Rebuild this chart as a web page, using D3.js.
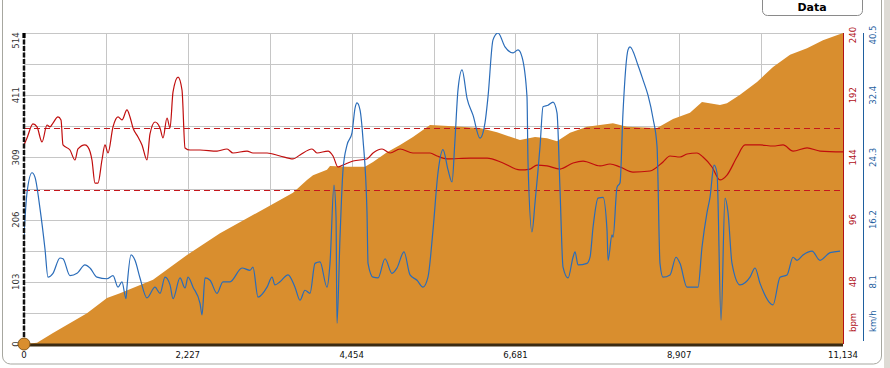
<!DOCTYPE html>
<html>
<head>
<meta charset="utf-8">
<script src="https://cdn.jsdelivr.net/npm/d3@7"></script>
<style>
  body { margin: 0; background: #fff; }
  svg { display: block; font-family: "DejaVu Sans Condensed", "DejaVu Sans", Verdana, sans-serif; }
</style>
</head>
<body>
<script>
// elevation profile (m) vs distance (m)
var elevDist = [0,177,394,856,1128,1305,1754,2216,2665,3304,3657,3847,3929,4119,4160,4391,4636,4745,4935,5112,5288,5520,5832,6199,6430,6743,6947,7110,7246,7423,7654,8007,8198,8606,8823,9054,9217,9462,9557,9734,9965,10183,10414,10645,10862,11134];
var elevM = [0,2,18,51,76,84,106,147,183,226,250,271,279,288,294,293,293,301,317,329,342,362,360,357,350,337,342,340,335,349,359,365,359,357,372,382,400,395,398,412,433,458,478,489,502,514];

// heart rate (bpm)
var hrDist = [0,41,122,177,245,313,353,394,462,503,530,625,693,734,829,870,924,965,1006,1060,1101,1142,1210,1278,1332,1400,1441,1482,1550,1604,1672,1713,1781,1849,1890,1944,1985,2026,2094,2148,2189,2257,2393,2624,2760,2841,3032,3113,3304,3480,3657,3752,3915,3983,4133,4201,4269,4337,4473,4663,4745,4867,4976,5112,5288,5520,5615,5751,6063,6295,6512,6743,6879,6974,7110,7287,7464,7600,7831,7967,8103,8279,8510,8687,8782,8918,9013,9149,9231,9353,9462,9557,9693,9802,10006,10183,10319,10455,10645,10822,11134];
var hrBpm = [153.6,159,169.8,167.5,155.9,169,167.5,170.5,175.2,172.9,153.6,149.7,142,150.5,153.6,152,142,124.2,124.2,142,153.6,147.4,167.5,175.2,172.9,180.6,175.2,166.7,159.7,153.6,142,162.1,171.3,166.7,159,174.4,166.7,194.5,206,196,151.3,149.7,149.7,148.9,150.5,147.4,148.9,147.4,147.4,145.1,142.8,145.9,150.5,147.4,148.9,145.1,136.6,138.1,141.2,142.8,147.4,150.5,147.4,150.5,147.4,147.4,145.1,142.8,143.5,143.5,139.7,134.3,135,138.1,137.4,135,139.7,141.2,137.4,138.9,136.6,132.7,133.5,140.5,145.1,144.3,146.6,147.4,144.3,136.6,126.6,130.4,144.3,153.6,153.6,152.8,153.6,148.9,151.3,148.9,148.2];

// speed (km/h)
var speedDist = [0,41,109,150,218,285,326,394,489,530,625,721,829,897,992,1128,1210,1278,1332,1387,1400,1455,1509,1577,1672,1781,1849,1917,1985,2026,2121,2189,2230,2298,2393,2420,2461,2529,2624,2705,2801,2964,3072,3113,3181,3304,3372,3412,3480,3589,3684,3752,3820,3888,3956,4024,4119,4160,4214,4242,4255,4296,4337,4391,4459,4500,4527,4568,4609,4663,4677,4745,4813,4908,5003,5071,5166,5248,5343,5424,5492,5560,5628,5696,5764,5819,5859,5900,5955,6023,6104,6199,6267,6308,6376,6444,6539,6648,6716,6770,6838,6852,6906,6947,7015,7056,7124,7192,7246,7287,7328,7396,7464,7491,7532,7654,7695,7736,7804,7872,7926,7940,7994,8008,8062,8103,8143,8211,8238,8347,8415,8483,8551,8606,8646,8687,8782,8864,8918,9013,9163,9217,9285,9326,9381,9421,9476,9530,9571,9625,9734,9870,9938,10006,10183,10278,10373,10455,10509,10591,10713,10822,10958,11094];
var speedKmh = [14.2,19.7,22.3,21.7,17.6,12.4,8.7,9.2,11.2,11.1,8.9,9.2,10.3,9.9,8.7,8.5,8.9,7.4,8.1,5.9,7.4,11.6,10.9,8.6,6,7.4,6.6,8.7,7.7,5.9,8.6,7.3,8.7,7.4,5.3,3.8,8.6,8.3,6.6,8.1,8.1,9.9,9.6,10,6.1,7.4,8.7,7.7,8.1,9,7.4,5.7,7,6.6,10.5,10.7,7.4,10.5,20.7,16.5,2.7,13.9,22.7,25.9,27.5,30.7,31.4,30.5,26.6,17.1,10.5,8.7,8.6,11.1,9.2,9.9,12,9,8.3,7.4,8.7,14.8,22.3,25.3,22.7,21.1,26.6,33.1,35.7,32,29.8,26.8,28.8,32.2,39.6,40.5,38.7,37.9,38.3,37.4,32.2,23.6,14.6,18.4,25.7,30.9,31.1,31.5,30.1,20.1,10,8.6,11.3,12,10.3,10.5,11.3,15.2,19,19.1,14.8,10.9,14.2,13.9,20.4,21,30.1,38.3,38.7,36.3,34.4,32.4,29.4,25.7,10.5,8.7,9,11.3,10.5,7.4,7.4,12.6,17.1,19.1,23.3,22.3,3.1,19,17.1,10.5,7.7,8.7,9.9,7.9,5.1,8.7,9,11.3,10.9,11.6,12.1,10.9,11.9,12.1];

// heart rate zone limits (bpm)
var hrZones = [119, 167];

// axis ticks
var distTicks = [0, 2227, 4454, 6681, 8907, 11134];
var distLabels = ["0", "2,227", "4,454", "6,681", "8,907", "11,134"];
var elevTicks = [0, 102.8, 205.6, 308.4, 411.2, 514];
var elevLabels = ["0", "103", "206", "309", "411", "514"];
var bpmTicks = [48, 96, 144, 192, 240];
var kmhTicks = [8.1, 16.2, 24.3, 32.4, 40.5];
var kmhLabels = ["8.1", "16.2", "24.3", "32.4", "40.5"];

var W = 890, H = 368;
var L = 24, R = 843, T = 33, B = 344;
var fs = 9.5;

var svg = d3.select('body').append('svg').attr('width', W).attr('height', H);

// frame
svg.append('rect').attr('x', 884).attr('y', 0).attr('width', 6).attr('height', H).attr('fill', '#dedbd5');
svg.append('rect').attr('x', 2.5).attr('y', -12).attr('width', 879).attr('height', 376).attr('rx', 8)
  .attr('fill', '#fff').attr('stroke', '#a7a7a0');

// Data button
svg.append('rect').attr('x', 762.5).attr('y', -8).attr('width', 100).attr('height', 23.5).attr('rx', 5)
  .attr('fill', '#fff').attr('stroke', '#8a8a8a');
svg.append('text').attr('x', 812).attr('y', 11).attr('text-anchor', 'middle')
  .attr('font-family', '"DejaVu Sans", Verdana, sans-serif')
  .attr('font-size', 11).attr('font-weight', 'bold').attr('fill', '#000').text('Data');

var x = d3.scaleLinear().domain([0, 11134]).range([L, R]);
var yE = d3.scaleLinear().domain([0, 514]).range([B, T]);
var yH = d3.scaleLinear().domain([0, 240]).range([B, T]);
var yS = d3.scaleLinear().domain([0, 40.5]).range([B, T]);

// grid
var grid = svg.append('g');
d3.range(0, 11).forEach(function(i) {
  var gx = Math.round(x(11134 * i / 10)) + 0.5;
  grid.append('line').attr('x1', gx).attr('x2', gx).attr('y1', T).attr('y2', B)
    .attr('stroke', '#c6c6c6').attr('stroke-width', 1);
  var gy = Math.round(yE(514 * i / 10)) + 0.5;
  grid.append('line').attr('x1', L).attr('x2', R).attr('y1', gy).attr('y2', gy)
    .attr('stroke', '#c6c6c6').attr('stroke-width', 1);
});

svg.append('clipPath').attr('id', 'plot').append('rect')
  .attr('x', L).attr('y', T).attr('width', R - L).attr('height', B - T);

// elevation area
var elev = elevDist.map(function(d, i) { return [d, elevM[i]]; });
svg.append('path').datum(elev)
  .attr('fill', '#d98e2e')
  .attr('d', d3.area().x(function(d) { return x(d[0]); }).y0(B).y1(function(d) { return yE(d[1]); }));

// zone lines
hrZones.forEach(function(z) {
  svg.append('line').attr('x1', L).attr('x2', R).attr('y1', Math.round(yH(z)) + 0.5).attr('y2', Math.round(yH(z)) + 0.5)
    .attr('stroke', '#c4161c').attr('stroke-width', 1).attr('stroke-dasharray', '6,4');
});

var g = svg.append('g').attr('clip-path', 'url(#plot)');

var hr = hrDist.map(function(d, i) { return [d, hrBpm[i]]; });
g.append('path').datum(hr).attr('fill', 'none').attr('stroke', '#c00d0d').attr('stroke-width', 1.2)
  .attr('d', d3.line().x(function(d) { return x(d[0]); }).y(function(d) { return yH(d[1]); }).curve(d3.curveMonotoneX));

var sp = speedDist.map(function(d, i) { return [d, speedKmh[i]]; });
g.append('path').datum(sp).attr('fill', 'none').attr('stroke', '#2a6cb9').attr('stroke-width', 1.2)
  .attr('d', d3.line().x(function(d) { return x(d[0]); }).y(function(d) { return yS(d[1]); }).curve(d3.curveMonotoneX));

// left axis (dashed black)
svg.append('line').attr('x1', L).attr('x2', L).attr('y1', T).attr('y2', B)
  .attr('stroke', '#111').attr('stroke-width', 2.5).attr('stroke-dasharray', '5,1.5');
svg.append('line').attr('x1', L).attr('x2', L).attr('y1', T).attr('y2', T + 5)
  .attr('stroke', '#000').attr('stroke-width', 3);

elevTicks.forEach(function(t, i) {
  var ty = yE(t);
  if (i === elevTicks.length - 1) ty = T + 7.5;
  svg.append('text').attr('transform', 'translate(18.5,' + ty + ') rotate(-90)')
    .attr('text-anchor', 'middle').attr('font-size', fs).attr('fill', '#333').text(elevLabels[i]);
});

// bottom axis
svg.append('line').attr('x1', L).attr('x2', R).attr('y1', B + 1).attr('y2', B + 1)
  .attr('stroke', '#3b2a12').attr('stroke-width', 3);
distTicks.forEach(function(t, i) {
  svg.append('text').attr('x', x(t)).attr('y', 357.5).attr('text-anchor', 'middle')
    .attr('font-size', fs).attr('fill', '#111').text(distLabels[i]);
});
svg.append('circle').attr('cx', L).attr('cy', B).attr('r', 6)
  .attr('fill', '#d98e2e').attr('stroke', '#8a5a1a').attr('stroke-width', 1);

// right axes
svg.append('line').attr('x1', R + 0.5).attr('x2', R + 0.5).attr('y1', T).attr('y2', B)
  .attr('stroke', '#b01018').attr('stroke-width', 1);
svg.append('line').attr('x1', 863.5).attr('x2', 863.5).attr('y1', T).attr('y2', B - 3)
  .attr('stroke', '#1f5f9f').attr('stroke-width', 1);

bpmTicks.forEach(function(t, i) {
  var ty = yH(t);
  if (i === bpmTicks.length - 1) ty = T + 2;
  svg.append('text').attr('transform', 'translate(855.5,' + ty + ') rotate(-90)')
    .attr('text-anchor', 'middle').attr('font-size', fs).attr('fill', '#b01018').text(t);
});
svg.append('text').attr('transform', 'translate(855.5,' + (B - 12) + ') rotate(-90)')
  .attr('text-anchor', 'start').attr('font-size', fs).attr('fill', '#b01018').text('bpm');

kmhTicks.forEach(function(t, i) {
  var ty = yS(t);
  if (i === kmhTicks.length - 1) ty = T + 2;
  svg.append('text').attr('transform', 'translate(876,' + ty + ') rotate(-90)')
    .attr('text-anchor', 'middle').attr('font-size', fs).attr('fill', '#1f5f9f').text(kmhLabels[i]);
});
svg.append('text').attr('transform', 'translate(876,' + (B - 12) + ') rotate(-90)')
  .attr('text-anchor', 'start').attr('font-size', fs).attr('fill', '#1f5f9f').text('km/h');
</script>
</body>
</html>
